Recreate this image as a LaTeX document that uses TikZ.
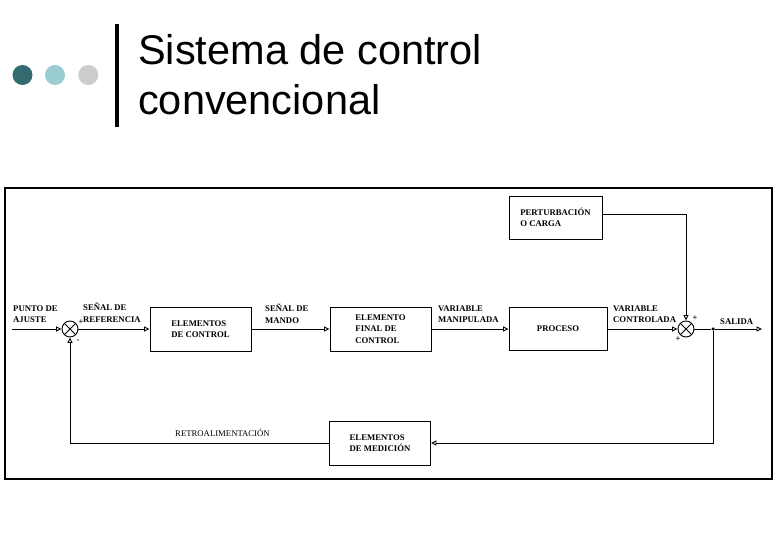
\documentclass[tikz,border=0pt]{standalone}
\usepackage{fontspec}
\setmainfont{Liberation Serif}
\newfontfamily\titlefont{Liberation Sans}
\usetikzlibrary{arrows.meta}
\definecolor{dotdark}{HTML}{336B70}
\definecolor{dotlight}{HTML}{9ACDD2}
\definecolor{dotgray}{HTML}{CCCCCC}
\newcommand\diagfont{\fontsize{8.7}{11.5}\selectfont\bfseries}
\begin{document}
\begin{tikzpicture}[x=1pt,y=-1pt,
  blk/.style={draw, line width=0.9pt, inner sep=0pt, font=\diagfont, align=left},
  lbl/.style={inner sep=0pt, font=\diagfont, align=left, anchor=west},
  sumc/.style={draw, circle, line width=0.9pt, minimum size=16pt, inner sep=0pt,
    path picture={\draw[line width=0.8pt]
      (path picture bounding box.north west) -- (path picture bounding box.south east)
      (path picture bounding box.north east) -- (path picture bounding box.south west);}},
  sig/.style={-{Triangle[open,length=5.5pt,width=5pt]}, line width=0.9pt},
  wire/.style={line width=0.9pt},
  sgn/.style={inner sep=0pt, font=\fontsize{8.5}{8.5}\selectfont\bfseries},
  ttl/.style={anchor=base west, inner sep=0pt, font=\titlefont\fontsize{41.5}{50}\selectfont}]
\fill[white] (0,0) rectangle (780,540);
\useasboundingbox (0,0) rectangle (780,540);

% title
\fill[dotdark] (22.5,75) circle (10);
\fill[dotlight] (55,75) circle (10);
\fill[dotgray] (88.3,75) circle (10);
\fill[black] (115,24) rectangle (119,127);
\node[ttl] (t1) at (138,65) {Sistema de control};
\node[ttl] (t2) at (138,115) {convencional};

% frame
\draw[line width=1.2pt] (5,188) rectangle (772,479);

% blocks
\node[blk, minimum width=101pt, minimum height=44pt] (ctrl) at (200.5,329) {ELEMENTOS\\DE CONTROL};
\node[blk, minimum width=101pt, minimum height=44pt] (final) at (380.5,329) {ELEMENTO\\FINAL DE\\CONTROL};
\node[blk, minimum width=98pt, minimum height=43pt] (proc) at (558,329) {PROCESO};
\node[blk, minimum width=93pt, minimum height=43pt] (pert) at (555.5,217.5) {PERTURBACIÓN\\O CARGA};
\node[blk, minimum width=101pt, minimum height=44pt] (med) at (380,443) {ELEMENTOS\\DE MEDICIÓN};

% summing junctions
\node[sumc] (s1) at (70,329) {};
\node[sumc] (s2) at (686,329) {};
\node[circle, fill, inner sep=0pt, minimum size=3.5pt] (j) at (713,329) {};
\coordinate (in) at (12,329);
\coordinate (out) at (762,329);

% connectors
\draw[sig] (in) -- (s1.west);
\draw[sig] (s1.east) -- (ctrl.west);
\draw[sig] (ctrl.east) -- (final.west);
\draw[sig] (final.east) -- (proc.west);
\draw[sig] (proc.east) -- (s2.west);
\draw[wire] (s2.east) -- (j);
\draw[sig] (j) -- (out);
\draw[sig] ([yshift=3.5pt]pert.east) -| (s2.north);
\draw[sig] (j) |- (med.east);
\draw[sig] (med.west) -| (s1.south);

% signs
\node[sgn] (p1) at (81,322) {+};
\node[sgn] (m1) at (78,341) {-};
\node[sgn] (p2) at (695,318) {+};
\node[sgn] (p3) at (678,339) {+};

% labels
\node[lbl] (l1) at (13,314) {PUNTO DE\\AJUSTE};
\node[lbl] (l2) at (83,313) {SEÑAL DE\\REFERENCIA};
\node[lbl] (l3) at (265,314) {SEÑAL DE\\MANDO};
\node[lbl] (l4) at (438,314) {VARIABLE\\MANIPULADA};
\node[lbl] (l5) at (613,314) {VARIABLE\\CONTROLADA};
\node[lbl] (l6) at (720,322) {SALIDA};
\node[lbl, font=\fontsize{8.7}{11.5}\selectfont] (l7) at (175,433) {RETROALIMENTACIÓN};
\end{tikzpicture}
\end{document}
